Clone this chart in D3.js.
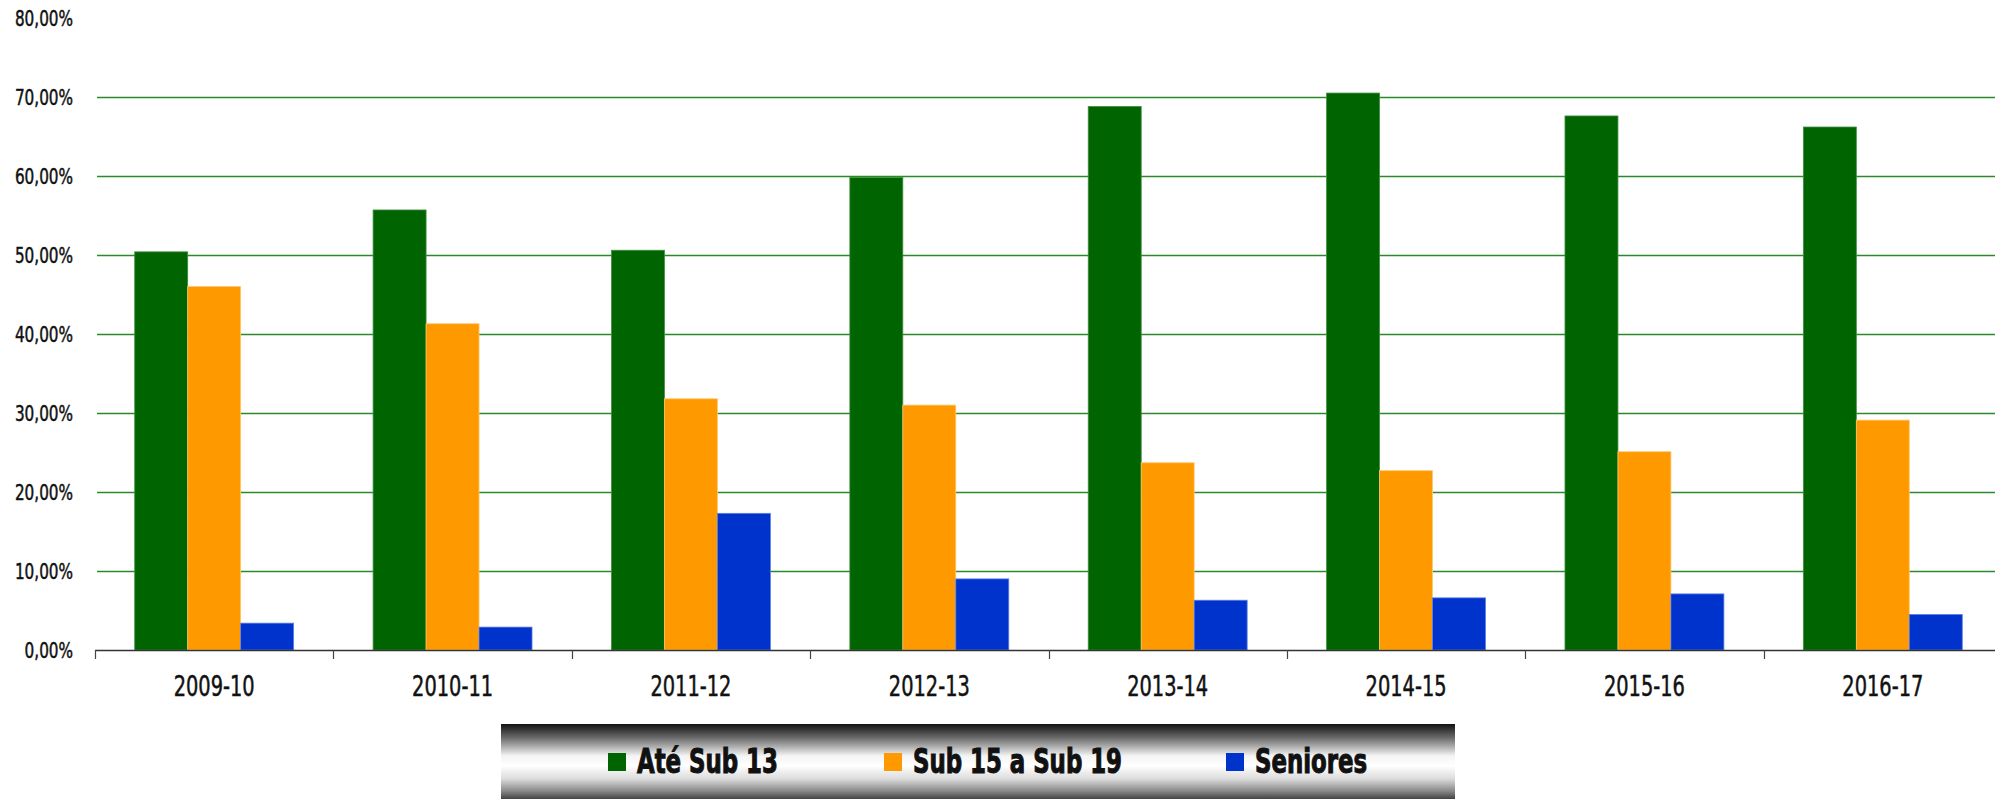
<!DOCTYPE html>
<html>
<head>
<meta charset="utf-8">
<script src="https://cdn.jsdelivr.net/npm/d3@7"></script>
<style>
    body { margin: 0; background: #fff; }
    svg { display: block; }
    .lbl { font-family: "Liberation Sans Narrow", "DejaVu Sans Condensed", sans-serif; fill: #111; stroke: #111; stroke-width: 0.5px; }
    .leg { stroke-width: 1px; }
</style>
</head>
<body>
<div id="chart"></div>
<script>
    "use strict";

    //Chart data
    var seasons = ["2009-10", "2010-11", "2011-12", "2012-13", "2013-14", "2014-15", "2015-16", "2016-17"];
    var seriesNames = ["Até Sub 13", "Sub 15 a Sub 19", "Seniores"];
    var ateSub13 = [50.4, 55.7, 50.6, 59.8, 68.8, 70.5, 67.6, 66.2];
    var sub15a19 = [46.0, 41.3, 31.8, 31.0, 23.7, 22.7, 25.1, 29.1];
    var seniores = [3.4, 2.9, 17.3, 9.0, 6.3, 6.6, 7.1, 4.5];
    var yTicks = [0, 10, 20, 30, 40, 50, 60, 70, 80];
    var colours = ["#006400", "#ff9900", "#0033cc"];
    var edges = ["#3f8f3f", "#ffc870", "#5c7ee6"];

    //Variables for layout
    var width = 1995;
    var height = 799;
    var plotLeft = 95;
    var plotRight = 2002;
    var plotTop = 18;
    var plotBottom = 650;
    var legendX = [608, 884, 1226];
    //horizontal squeeze to imitate a condensed face
    var squeeze = 0.77;

    var values = [ateSub13, sub15a19, seniores];

    var svg = d3.select("#chart").append("svg")
        .attr("width", width)
        .attr("height", height);

    var x0 = d3.scaleBand().domain(seasons).range([plotLeft, plotRight]);
    var x1 = d3.scaleBand().domain(seriesNames)
        .range([x0.bandwidth() / 6, x0.bandwidth() * 5 / 6]);
    var y = d3.scaleLinear().domain([0, 80]).range([plotBottom, plotTop]);

    var pt = d3.formatLocale({ decimal: ",", thousands: ".", grouping: [3], currency: ["", "€"] });
    var fmt = pt.format(".2f");

    function place(x, y) {
        return "translate(" + x + "," + y + ") scale(" + squeeze + ",1)";
    }

    //Gridlines
    svg.append("g")
        .selectAll("line")
        .data(yTicks.filter(function (t) { return t > 0 && t < 80; }))
        .enter().append("line")
        .attr("x1", plotLeft + 2)
        .attr("x2", plotRight)
        .attr("y1", function (d) { return Math.round(y(d)) + 0.5; })
        .attr("y2", function (d) { return Math.round(y(d)) + 0.5; })
        .attr("stroke", "#2a8a2a")
        .attr("stroke-width", 1.4);

    //Y labels
    svg.append("g")
        .selectAll("text")
        .data(yTicks)
        .enter().append("text")
        .attr("class", "lbl")
        .attr("transform", function (d) { return place(73, y(d)); })
        .attr("dy", "0.36em")
        .attr("text-anchor", "end")
        .style("font-size", "22px")
        .text(function (d) { return fmt(d) + "%"; });

    //Bars
    var groups = svg.append("g")
        .selectAll("g")
        .data(seasons)
        .enter().append("g")
        .attr("transform", function (d) { return "translate(" + x0(d) + ",0)"; });

    groups.selectAll("rect")
        .data(function (d, i) {
            return seriesNames.map(function (s, k) {
                return { key: s, k: k, value: values[k][i] };
            });
        })
        .enter().append("rect")
        .attr("x", function (d) { return x1(d.key); })
        .attr("width", x1.bandwidth())
        .attr("y", function (d) { return y(d.value); })
        .attr("height", function (d) { return plotBottom - y(d.value); })
        .attr("fill", function (d) { return colours[d.k]; })
        .attr("stroke", function (d) { return edges[d.k]; })
        .attr("stroke-width", 0.8);

    //X axis
    var xAxis = svg.append("g");
    xAxis.append("line")
        .attr("x1", plotLeft)
        .attr("x2", plotRight)
        .attr("y1", plotBottom + 0.5)
        .attr("y2", plotBottom + 0.5)
        .attr("stroke", "#333")
        .attr("stroke-width", 1.5);

    var bounds = seasons.map(function (s) { return x0(s); }).concat([plotRight]);
    xAxis.selectAll(".tick")
        .data(bounds)
        .enter().append("line")
        .attr("class", "tick")
        .attr("x1", function (d) { return Math.round(d) + 0.5; })
        .attr("x2", function (d) { return Math.round(d) + 0.5; })
        .attr("y1", plotBottom)
        .attr("y2", plotBottom + 9)
        .attr("stroke", "#444")
        .attr("stroke-width", 1.2);

    xAxis.selectAll("text")
        .data(seasons)
        .enter().append("text")
        .attr("class", "lbl")
        .attr("transform", function (d) { return place(x0(d) + x0.bandwidth() / 2, 696); })
        .attr("text-anchor", "middle")
        .style("font-size", "28px")
        .text(function (d) { return d; });

    //Legend box with metallic gradient
    var defs = svg.append("defs");
    var grad = defs.append("linearGradient")
        .attr("id", "legendGrad")
        .attr("x1", 0).attr("y1", 0).attr("x2", 0).attr("y2", 1);
    [[0, "#111"], [0.18, "#6a6a6a"], [0.42, "#f4f4f4"], [0.55, "#ffffff"], [0.72, "#dcdcdc"], [0.88, "#8a8a8a"], [1, "#3a3a3a"]]
        .forEach(function (s) {
            grad.append("stop").attr("offset", s[0]).attr("stop-color", s[1]);
        });

    var legend = svg.append("g");
    legend.append("rect")
        .attr("x", 501)
        .attr("y", 724)
        .attr("width", 954)
        .attr("height", 76)
        .attr("fill", "url(#legendGrad)");

    var items = legend.selectAll(".item")
        .data(seriesNames)
        .enter().append("g")
        .attr("class", "item");

    items.append("rect")
        .attr("x", function (d, k) { return legendX[k]; })
        .attr("y", 753)
        .attr("width", 18)
        .attr("height", 18)
        .attr("fill", function (d, k) { return colours[k]; });

    items.append("text")
        .attr("class", "lbl leg")
        .attr("transform", function (d, k) { return place(legendX[k] + 29, 773); })
        .style("font-size", "33px")
        .style("font-weight", "bold")
        .text(function (d) { return d; });
</script>
</body>
</html>
